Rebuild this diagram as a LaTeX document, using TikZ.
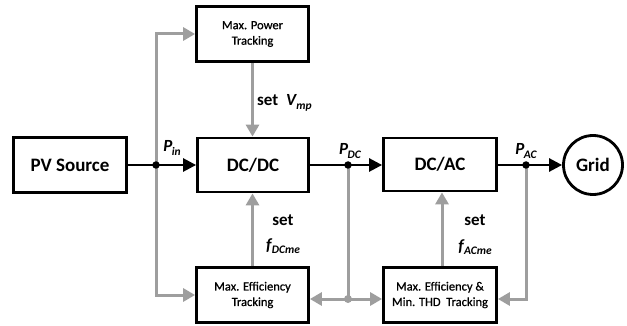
\documentclass[tikz,border=0pt]{standalone}
\usepackage{fontspec}
\setmainfont{Carlito}
\newfontfamily\semib[FakeBold=0.8]{Carlito}
\usetikzlibrary{arrows.meta}
\definecolor{gr}{RGB}{158,158,158}
\newcommand\pl[2]{\textbf{\textit{#1}}\kern-0.5pt\raisebox{-0.45ex}{\fontsize{11.5}{12}\selectfont\bfseries\itshape #2}}
\begin{document}
\begin{tikzpicture}[x=1pt,y=-1pt,
 box/.style={draw=black,line width=2.8pt,inner sep=0pt,align=center,fill=white},
 big/.style={font=\fontsize{19}{22}\selectfont\bfseries},
 small/.style={font=\semib\fontsize{12.5}{15.5}\selectfont},
 flow/.style={draw=black,line width=2.6pt,-{Triangle[length=13pt,width=13pt]}},
 ctrl/.style={draw=gr,line width=3pt,-{Triangle[length=12pt,width=13pt]}},
 ctrlline/.style={draw=gr,line width=3pt},
 lab/.style={font=\fontsize{17}{20}\selectfont\bfseries,inner sep=0pt},
 dot/.style={circle,fill=black,inner sep=0pt,minimum size=7.5pt}
]
\useasboundingbox (0,0) rectangle (627,326);
\node[box,big,minimum width=113pt,minimum height=55pt] (pv) at (70,165) {PV Source};
\node[box,big,minimum width=111pt,minimum height=54pt] (dcdc) at (253,165) {DC/DC};
\node[box,big,minimum width=113pt,minimum height=53pt] (dcac) at (440,164.5) {DC/AC};
\node[box,big,circle,minimum size=59pt] (grid) at (593,165) {Grid};
\node[box,small,minimum width=112pt,minimum height=55pt] (mpt) at (252.5,34) {Max. Power\\Tracking};
\node[box,small,minimum width=112pt,minimum height=55pt] (met) at (252.5,295) {Max. Efficiency\\Tracking};
\node[box,small,minimum width=113pt,minimum height=55pt] (mtt) at (440,295) {Max. Efficiency \&\\Min. THD\ \ Tracking};
\coordinate (pin) at (156,165);
\coordinate (pdc) at (348,165);
\coordinate (pac) at (526,165);
\coordinate (bd) at (348,299);
% control paths
\draw[ctrl] (pin) |- (mpt.west);
\draw[ctrl] (pin) |- (met.west);
\draw[ctrl] (mpt.south) -- (mpt.south |- dcdc.north);
\draw[ctrl] (met.north) -- (met.north |- dcdc.south);
\draw[ctrl] ([xshift=2pt]mtt.north) -- ([xshift=2pt]mtt.north |- dcac.south);
\draw[ctrlline] (pdc) -- (bd);
\draw[ctrl] (bd) -- (met.east |- bd);
\draw[ctrl] (bd) -- (mtt.west |- bd);
\draw[ctrl] (pac) |- (mtt.east |- bd);
\fill[gr] (bd) circle (4pt);
% power flow
\draw[flow] (pv.east) -- (dcdc.west);
\draw[flow] (dcdc.east) -- (dcac.west |- dcdc.east);
\draw[flow] (dcac.east |- pac) -- (grid.west);
\node[dot] (dpin) at (pin) {};
\node[dot] (dpdc) at (pdc) {};
\node[dot] (dpac) at (pac) {};
% labels
\node[lab] (lpin) at (172,148) {\pl{P}{in}};
\node[lab] (lpdc) at (350,151) {\pl{P}{DC}};
\node[lab] (lpac) at (526,151) {\pl{P}{AC}};
\node[lab,anchor=west] (lvmp) at (257,103) {set\ \ \pl{V}{mp}};
\node[lab] (lset1) at (283,220) {set};
\node[lab] (lf1) at (283,246) {\pl{f}{DCme}};
\node[lab] (lset2) at (475,220) {set};
\node[lab] (lf2) at (475,247) {\pl{f}{ACme}};
\end{tikzpicture}
\end{document}
